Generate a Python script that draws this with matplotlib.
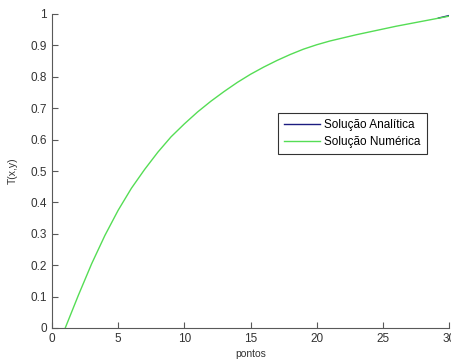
import matplotlib
matplotlib.use('Agg')
import matplotlib.pyplot as plt

# curve
pontos = list(range(1, 31))
t_numerica = [0.0, 0.105, 0.205, 0.295, 0.375, 0.445, 0.505, 0.56, 0.609, 0.65,
              0.688, 0.722, 0.753, 0.782, 0.808, 0.831, 0.852, 0.871, 0.888, 0.902,
              0.914, 0.924, 0.934, 0.943, 0.952, 0.961, 0.969, 0.977, 0.985, 0.993]
# analytic curve only shows through at the very end
pontos_analitica = [29.2, 30]
t_analitica = [0.987, 0.995]

xticks = [0, 5, 10, 15, 20, 25, 30]
yticks = [0, 0.1, 0.2, 0.3, 0.4, 0.5, 0.6, 0.7, 0.8, 0.9, 1]

plt.rcParams['font.family'] = ['Liberation Sans', 'DejaVu Sans']

fig = plt.figure(figsize=(4.51, 3.62), dpi=100)
ax = fig.add_axes([52 / 451, 34 / 362, 397 / 451, 314 / 362])

ax.plot(pontos_analitica, t_analitica, color='#1c1c80', lw=1.0, label='Solução Analítica')
ax.plot(pontos, t_numerica, color='#55dd55', lw=1.0, label='Solução Numérica')

ax.set_xlim(0, 30)
ax.set_ylim(0, 1)
ax.set_xticks(xticks)
ax.set_yticks(yticks)
ax.set_yticklabels(['0', '0.1', '0.2', '0.3', '0.4', '0.5', '0.6', '0.7', '0.8', '0.9', '1'])

for s in ['top', 'right']:
    ax.spines[s].set_visible(False)
for s in ['left', 'bottom']:
    ax.spines[s].set_color('0.35')
ax.tick_params(direction='in', length=4, colors='0.35', labelcolor='0.2', labelsize=8.5)

ax.set_xlabel('pontos', fontsize=7.5, color='0.2', labelpad=3)
ax.set_ylabel('T(x,y)', fontsize=7.5, color='0.2', labelpad=9)

leg = ax.legend(loc='upper right', bbox_to_anchor=(0.944, 0.684), fontsize=8.5,
                frameon=True, fancybox=False, borderpad=0.5, handlelength=3.05,
                handletextpad=0.42, labelspacing=0.45, borderaxespad=0)
leg.get_frame().set_edgecolor('black')
leg.get_frame().set_linewidth(0.8)

fig.savefig('out.png', dpi=100)
